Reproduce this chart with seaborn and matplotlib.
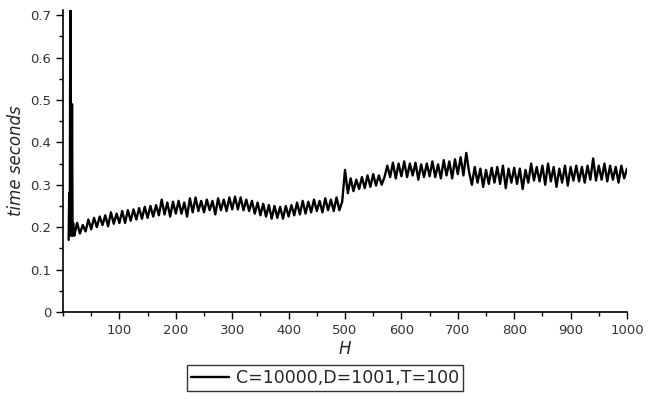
import pandas as pd
import matplotlib.pyplot as plt
import seaborn as sns
from matplotlib.ticker import MultipleLocator

# H values: dense at the start spike, then every 5
H_start = [10, 11, 12, 13, 14, 15, 16, 17, 18, 19]
H_main = list(range(20, 1001, 5))

t_start = [0.17, 0.28, 0.18, 0.75, 0.19, 0.18, 0.49, 0.18, 0.21, 0.19]
t_main = [
    # 20-100
    0.18, 0.21, 0.185, 0.205, 0.19, 0.218, 0.195, 0.222, 0.2, 0.225,
    0.205, 0.228, 0.202, 0.235, 0.208, 0.232, 0.21,
    # 105-200
    0.238, 0.21, 0.24, 0.215, 0.242, 0.218, 0.245, 0.22, 0.248, 0.222,
    0.25, 0.225, 0.252, 0.228, 0.265, 0.23, 0.258, 0.225, 0.26, 0.232,
    # 205-300
    0.262, 0.232, 0.258, 0.225, 0.268, 0.235, 0.27, 0.238, 0.262, 0.235,
    0.265, 0.24, 0.262, 0.23, 0.268, 0.24, 0.265, 0.238, 0.27, 0.242,
    # 305-400
    0.272, 0.242, 0.27, 0.24, 0.265, 0.238, 0.262, 0.232, 0.258, 0.228,
    0.255, 0.225, 0.252, 0.22, 0.25, 0.222, 0.248, 0.22, 0.25, 0.225,
    # 405-500
    0.252, 0.228, 0.258, 0.23, 0.262, 0.232, 0.26, 0.235, 0.265, 0.238,
    0.262, 0.235, 0.268, 0.24, 0.265, 0.238, 0.27, 0.24, 0.26, 0.335,
    # 505-570
    0.28, 0.315, 0.285, 0.312, 0.29, 0.318, 0.292, 0.322, 0.295, 0.325,
    0.298, 0.322, 0.3, 0.318,
    # 575-720
    0.345, 0.318, 0.352, 0.315, 0.35, 0.32, 0.355, 0.318, 0.35, 0.322,
    0.352, 0.312, 0.348, 0.318, 0.35, 0.32, 0.355, 0.318, 0.348, 0.315,
    0.358, 0.322, 0.355, 0.315, 0.36, 0.325, 0.365, 0.322, 0.375, 0.33,
    # 725-800
    0.3, 0.342, 0.305, 0.338, 0.295, 0.335, 0.302, 0.34, 0.305, 0.342,
    0.302, 0.345, 0.292, 0.338, 0.305, 0.34,
    # 805-900
    0.302, 0.338, 0.29, 0.335, 0.305, 0.35, 0.31, 0.342, 0.308, 0.345,
    0.3, 0.35, 0.308, 0.342, 0.295, 0.338, 0.305, 0.345, 0.298, 0.342,
    # 905-1000
    0.31, 0.345, 0.308, 0.342, 0.305, 0.345, 0.312, 0.362, 0.31, 0.345,
    0.312, 0.35, 0.308, 0.345, 0.312, 0.342, 0.305, 0.345, 0.315, 0.338,
]

df = pd.DataFrame({"H": H_start + H_main, "t": t_start + t_main})
series_label = "C=10000,D=1001,T=100"

sns.set_style("white")
plt.rcParams["font.family"] = ["DejaVu Sans"]

fig = plt.figure(figsize=(6.52, 4.0), dpi=100)
ax = fig.add_axes([63 / 652, 1 - 312 / 400, (627 - 63) / 652, (312 - 10) / 400])

sns.lineplot(data=df, x="H", y="t", color="black", linewidth=1.7,
             label=series_label, ax=ax, estimator=None)

ax.set_xlim(0, 1000)
ax.set_ylim(0, 0.712)
ax.xaxis.set_minor_locator(MultipleLocator(50))
ax.yaxis.set_minor_locator(MultipleLocator(0.05))
ax.set_xticks(range(100, 1001, 100))
ax.set_yticks([0, 0.1, 0.2, 0.3, 0.4, 0.5, 0.6, 0.7])
ax.set_yticklabels(["0", "0.1", "0.2", "0.3", "0.4", "0.5", "0.6", "0.7"])

for s in ["top", "right"]:
    ax.spines[s].set_visible(False)
for s in ["left", "bottom"]:
    ax.spines[s].set_color("black")
    ax.spines[s].set_linewidth(1.2)

ax.tick_params(which="major", direction="out", length=5, width=1,
               color="black", labelsize=9.5, labelcolor="#333333",
               bottom=True, left=True)
ax.tick_params(which="minor", direction="out", length=3, width=1,
               color="black", bottom=True, left=True)

ax.set_xlabel("H", fontsize=12, fontstyle="italic", labelpad=2)
ax.set_ylabel("time seconds", fontsize=12, fontstyle="italic", labelpad=4)

ax.get_legend().remove()
handles, labels = ax.get_legend_handles_labels()
leg = fig.legend(handles, labels, loc="center",
                 bbox_to_anchor=(325 / 652, 1 - 378 / 400),
                 fontsize=12.5, frameon=True, fancybox=False,
                 handlelength=2.2, handletextpad=0.4, borderpad=0.25,
                 borderaxespad=0)
leg.get_frame().set_edgecolor("black")
leg.get_frame().set_linewidth(1)

fig.savefig("out.png", dpi=100)
